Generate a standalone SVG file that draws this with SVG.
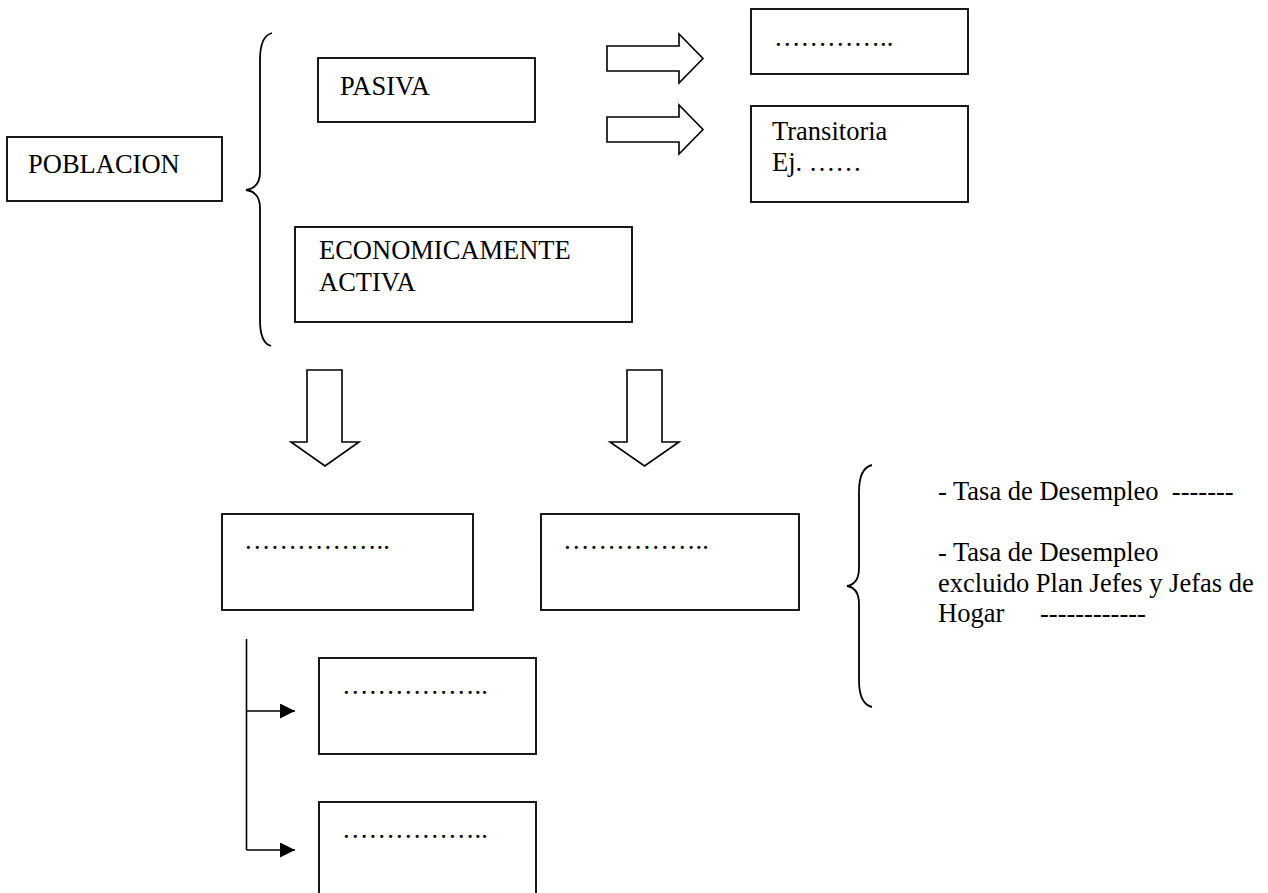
<svg xmlns="http://www.w3.org/2000/svg" width="1268" height="893" viewBox="0 0 1268 893">
<style>
.box{fill:#fff;stroke:#000;stroke-width:1.8}
.blk{fill:#fff;stroke:#000;stroke-width:1.6;stroke-linejoin:miter}
.ln{fill:none;stroke:#000;stroke-width:1.6}
.br{fill:none;stroke:#000;stroke-width:1.8}
text{font-family:"Liberation Serif","Times New Roman",serif;font-size:26.5px;fill:#000;white-space:pre}
</style>
<defs>
<marker id="ah" viewBox="0 0 10 10" refX="10" refY="5" markerWidth="16" markerHeight="15" markerUnits="userSpaceOnUse" orient="auto">
<path d="M0,0 L10,5 L0,10 Z" fill="#000"/>
</marker>
</defs>
<rect width="1268" height="893" fill="#fff"/>

<g id="connectors">
<path class="blk" d="M607,46 L679,46 L679,34 L703,58.5 L679,83 L679,71 L607,71 Z"/>
<path class="blk" d="M607,117 L679,117 L679,105 L703,129.5 L679,154 L679,142 L607,142 Z"/>
<path class="blk" d="M307,370 L342,370 L342,442 L359,442 L325,466 L291,442 L307,442 Z"/>
<path class="blk" d="M627,370 L662,370 L662,442 L679,442 L644.5,466 L610,442 L627,442 Z"/>
<path class="ln" d="M246.5,639 L246.5,850"/>
<path class="ln" d="M246.5,711 L295,711" marker-end="url(#ah)"/>
<path class="ln" d="M246.5,850 L295,850" marker-end="url(#ah)"/>
</g>

<g id="brace-1">
<path class="br" d="M272,33 Q260,36 260,60 L260,172 Q260,188 246,190 Q260,192 260,208 L260,320 Q260,343 271,346"/>
</g>
<g id="brace-2">
<path class="br" d="M872,465 Q859,468 859,492 L859,568 Q859,584 847,586 Q859,588 859,604 L859,680 Q859,704 872,707"/>
</g>

<g id="poblacion">
<rect class="box" x="7" y="137" width="215" height="64"/>
<text x="28" y="173">POBLACION</text>
</g>
<g id="pasiva">
<rect class="box" x="318" y="58" width="217" height="64"/>
<text x="340" y="95">PASIVA</text>
</g>
<g id="pasiva-1">
<rect class="box" x="751" y="9" width="217" height="65"/>
<text x="774" y="46">…………..</text>
</g>
<g id="transitoria">
<rect class="box" x="751" y="106" width="217" height="96"/>
<text x="772" y="140">Transitoria</text>
<text x="772" y="171">Ej. ……</text>
</g>
<g id="activa">
<rect class="box" x="295" y="227" width="337" height="95"/>
<text x="319" y="259">ECONOMICAMENTE</text>
<text x="319" y="291">ACTIVA</text>
</g>
<g id="activa-1">
<rect class="box" x="222" y="514" width="251" height="96"/>
<text x="244" y="549">……………..</text>
</g>
<g id="activa-2">
<rect class="box" x="541" y="514" width="258" height="96"/>
<text x="563" y="549">……………..</text>
</g>
<g id="activa-1-1">
<rect class="box" x="319" y="658" width="217" height="96"/>
<text x="342" y="694">……………..</text>
</g>
<g id="activa-1-2">
<rect class="box" x="319" y="802" width="217" height="100"/>
<text x="342" y="838">……………..</text>
</g>
<g id="indicadores">
<text x="938" y="500">- Tasa de Desempleo  -------</text>
<text x="938" y="561">- Tasa de Desempleo</text>
<text x="938" y="591.5">excluido Plan Jefes y Jefas de</text>
<text x="938" y="622">Hogar<tspan x="1040">------------</tspan></text>
</g>
</svg>
